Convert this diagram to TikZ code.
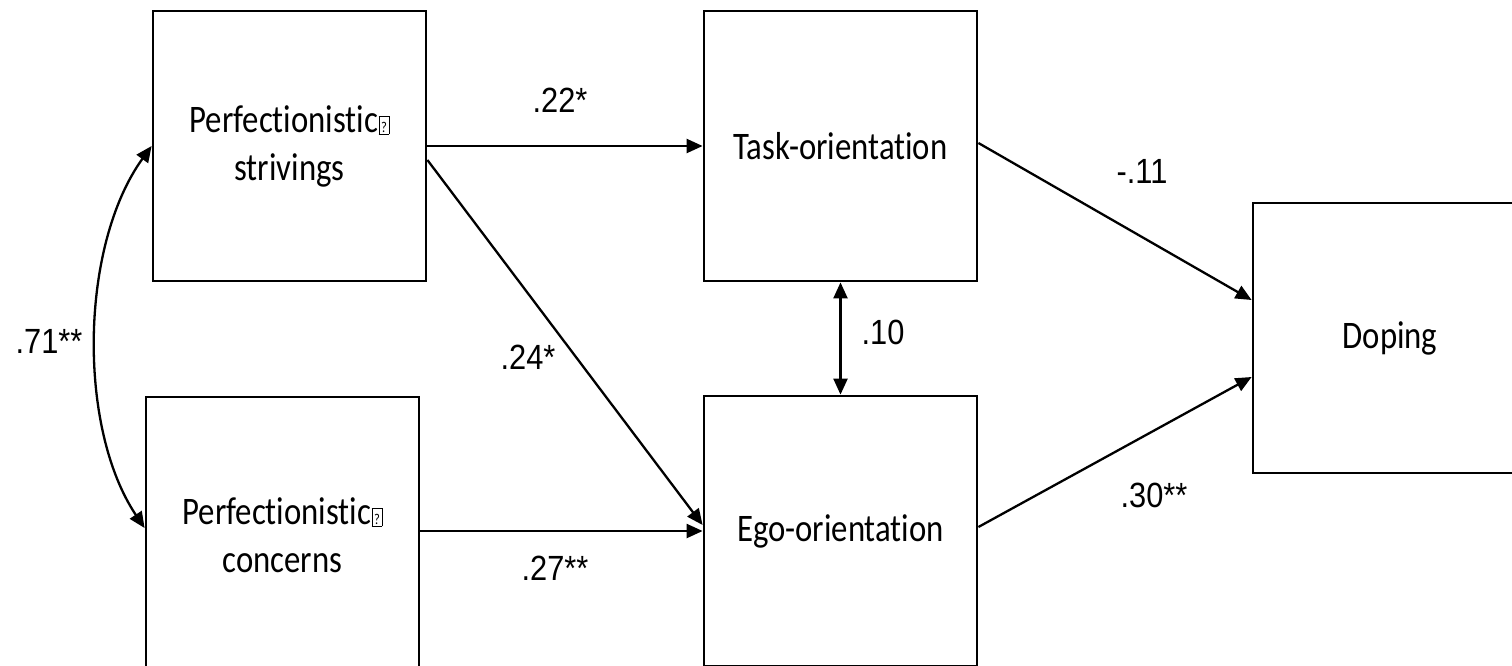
\documentclass[tikz,border=0pt]{standalone}
\usepackage{fontspec}
\setmainfont{Carlito}[FakeStretch=0.84]
\newfontfamily\numfam{Liberation Sans}[FakeStretch=0.88]
\usetikzlibrary{arrows.meta,calc}
\newcommand{\qglyph}{\hspace{0.5pt}{\setlength{\fboxsep}{1.6pt}\setlength{\fboxrule}{0.9pt}\fbox{\fontsize{15}{15}\selectfont\rule{0pt}{14pt}?}}}
\newcommand{\TI}{t\kern0pt i}
\tikzset{
  box/.style={draw, line width=2.8pt, minimum width=273pt, minimum height=270pt, inner sep=0pt, align=center, font=\fontsize{39}{48}\selectfont},
  arr/.style={line width=2.3pt, -{Triangle[length=16pt,width=14pt]}},
  dbl/.style={line width=2.3pt, {Triangle[length=16pt,width=14pt]}-{Triangle[length=16pt,width=14pt]}},
  lab/.style={inner sep=0pt, font=\numfam\fontsize{35}{40}\selectfont}
}
\begin{document}
\begin{tikzpicture}[x=1pt,y=-1pt]
\useasboundingbox (0,0) rectangle (1512,665);
\clip (0,0) rectangle (1512,665);
\fill[white] (0,0) rectangle (1512,665);
\node[box] (PS) at (289.5,146) {Perfec\TI onis\TI c\qglyph\\strivings};
\node[box, minimum height=276pt] (PC) at (282.5,535) {Perfec\TI onis\TI c\qglyph\\concerns};
\node[box] (Task) at (840.5,146) {Task-orienta\TI on};
\node[box] (Ego) at (840.5,531) {Ego-orienta\TI on};
\node[box, minimum width=274pt] (Doping) at (1390,338) {Doping};
\draw[arr] (PS.east) -- (Task.west);
\draw[arr] ($(PS.east)+(0,14)$) -- ($(Ego.west)+(0,-6)$);
\draw[arr] (PC.east |- Ego.west) -- (Ego.west);
\draw[arr] ($(Task.east)+(0,-3)$) -- ($(Doping.west)+(0,-38)$);
\draw[arr] ($(Ego.east)+(0,-4)$) -- ($(Doping.west)+(0,39)$);
\draw[dbl] (Task.south) -- (Ego.north);
\draw[dbl] (PS.west) .. controls +(-72,100) and +(-67,-100) .. ($(PC.west)+(0,-7)$);
\node[lab] (l22) at (560,100) {.22*};
\node[lab] (l24) at (528,357) {.24*};
\node[lab] (l27) at (555,568) {.27**};
\node[lab] (l11) at (1142,171) {-.11};
\node[lab] (l30) at (1154,495) {.30**};
\node[lab] (l10) at (883,332) {.10};
\node[lab] (l71) at (49,341) {.71**};
\end{tikzpicture}
\end{document}
